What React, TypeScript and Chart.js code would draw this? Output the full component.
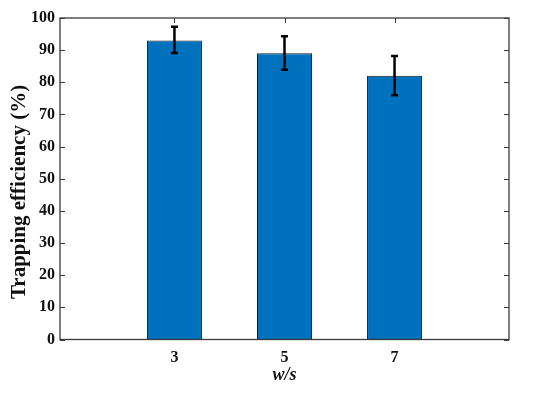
import React, { useEffect, useRef } from "react";
import { Chart, registerables } from "chart.js";

Chart.register(...registerables);

const categories = ["3", "5", "7"];
const efficiency = [93, 89, 82];
const errUpper = [97.3, 94.3, 88.2];
const errLower = [89.1, 83.9, 76.0];
const yTicks = [0, 10, 20, 30, 40, 50, 60, 70, 80, 90, 100];

const FONT = "'Liberation Serif', 'Times New Roman', serif";

const framePlugin = {
  id: "frameAndErrors",
  beforeDatasetsDraw(chart: any) {
    const { ctx, chartArea, scales } = chart;
    const { left, right, top, bottom } = chartArea;
    const x = scales.x;
    const y = scales.y;
    ctx.save();
    ctx.strokeStyle = "#3a3a3a";
    ctx.lineWidth = 1;
    const tl = 5;
    ctx.beginPath();
    yTicks.forEach((v) => {
      const py = Math.round(y.getPixelForValue(v)) + 0.5;
      ctx.moveTo(left, py);
      ctx.lineTo(left + tl, py);
      ctx.moveTo(right, py);
      ctx.lineTo(right - tl, py);
    });
    categories.forEach((_, i) => {
      const px = Math.round(x.getPixelForValue(i + 1)) + 0.5;
      ctx.moveTo(px, bottom);
      ctx.lineTo(px, bottom - tl);
      ctx.moveTo(px, top);
      ctx.lineTo(px, top + tl);
    });
    ctx.stroke();
    ctx.restore();
  },
  afterDatasetsDraw(chart: any) {
    const { ctx, chartArea, scales } = chart;
    const { left, right, top, bottom } = chartArea;
    const x = scales.x;
    const y = scales.y;
    ctx.save();
    // error bars
    ctx.strokeStyle = "#000";
    ctx.lineWidth = 2.5;
    ctx.lineCap = "butt";
    categories.forEach((_, i) => {
      const px = x.getPixelForValue(i + 1);
      const pu = y.getPixelForValue(errUpper[i]);
      const pl = y.getPixelForValue(errLower[i]);
      ctx.beginPath();
      ctx.moveTo(px, pu);
      ctx.lineTo(px, pl);
      ctx.moveTo(px - 3.5, pu);
      ctx.lineTo(px + 3.5, pu);
      ctx.moveTo(px - 3.5, pl);
      ctx.lineTo(px + 3.5, pl);
      ctx.stroke();
    });
    // frame
    ctx.strokeStyle = "#3a3a3a";
    ctx.lineWidth = 1.3;
    ctx.strokeRect(left, top, right - left, bottom - top);
    // axis titles
    ctx.fillStyle = "#111";
    ctx.textAlign = "center";
    ctx.textBaseline = "middle";
    ctx.font = `bold 21px ${FONT}`;
    ctx.save();
    ctx.translate(20, 192);
    ctx.rotate(-Math.PI / 2);
    ctx.fillText("Trapping efficiency (%)", 0, 0);
    ctx.restore();
    ctx.font = `italic bold 18px ${FONT}`;
    ctx.fillText("w/s", x.getPixelForValue(2), 375);
    ctx.restore();
  },
};

export default function App() {
  const ref = useRef<HTMLCanvasElement | null>(null);
  useEffect(() => {
    if (!ref.current) return;
    const chart = new Chart(ref.current, {
      type: "bar",
      data: {
        datasets: [
          {
            data: categories.map((_, i) => ({ x: i + 1, y: efficiency[i] })),
            backgroundColor: "#0072BD",
            borderColor: "#1a1a1a",
            borderWidth: 1,
            categoryPercentage: 1,
            barPercentage: 0.5,
          },
        ],
      },
      options: {
        animation: false,
        responsive: true,
        maintainAspectRatio: false,
        layout: { padding: { top: 18, right: 41, left: 0, bottom: 0 } },
        plugins: { legend: { display: false }, tooltip: { enabled: false } },
        scales: {
          x: {
            type: "linear",
            min: -0.04,
            max: 4.04,
            offset: false,
            grid: { display: false, drawTicks: false, offset: false },
            border: { display: false },
            afterBuildTicks: (scale: any) => {
              scale.ticks = categories.map((_, i) => ({ value: i + 1 }));
            },
            afterFit: (scale: any) => {
              scale.height = 53.5;
            },
            ticks: {
              padding: 9,
              color: "#111",
              font: { family: FONT, size: 16, weight: "bold" },
              callback: (v: any) => categories[Math.round(Number(v)) - 1] ?? "",
              maxRotation: 0,
            },
          },
          y: {
            min: 0,
            max: 100,
            grid: { display: false, drawTicks: false },
            border: { display: false },
            afterFit: (scale: any) => {
              scale.width = 60;
            },
            ticks: {
              stepSize: 10,
              padding: 5,
              color: "#111",
              font: { family: FONT, size: 16, weight: "bold" },
            },
          },
        },
      },
      plugins: [framePlugin],
    } as any);
    return () => chart.destroy();
  }, []);
  return (
    <div style={{ position: "fixed", left: 0, top: 0, width: 550, height: 393, background: "#fff" }}>
      <canvas ref={ref} />
    </div>
  );
}
